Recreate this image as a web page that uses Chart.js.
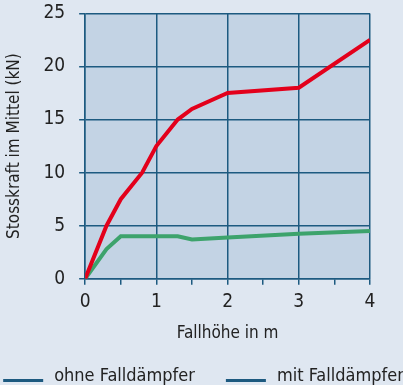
<!DOCTYPE html>
<html>
<head>
<meta charset="utf-8">
<script src="https://cdn.jsdelivr.net/npm/chart.js@4.4.1/dist/chart.umd.min.js"></script>
<style>
  html, body { margin: 0; padding: 0; background: #dfe7f1; overflow: hidden; }
  /* canvas moved up a bit: Chart.js keeps a larger top gap than the original has */
  #wrap { width: 403px; height: 397px; margin-top: -12px; position: relative; }
</style>
</head>
<body>
<div id="wrap"><canvas id="c"></canvas></div>
<script>
// Fallhöhe (m) und Stosskraft (kN)
const ohneX = [0, 0.3, 0.5, 0.8, 1, 1.3, 1.5, 2, 3, 4];
const ohneY = [0, 5, 7.5, 10, 12.5, 15, 16, 17.5, 18, 22.5];
const mitX = [0, 0.3, 0.5, 1.3, 1.5, 2, 3, 4];
const mitY = [0, 2.8, 4, 4, 3.7, 3.9, 4.25, 4.5];
const seriesNames = ['ohne Falldämpfer', 'mit Falldämpfer'];

const GRID = '#1d5a80';
const TEXT = '#222';
const FONT = '"Liberation Sans Narrow", "DejaVu Sans Condensed", "Roboto Condensed", Roboto, sans-serif';

const pts = (xs, ys) => xs.map((x, i) => ({ x: x, y: ys[i] }));

/* plot area gets its own grey-blue fill */
const areaFill = {
  id: 'areaFill',
  beforeDraw(chart) {
    const a = chart.chartArea, ctx = chart.ctx;
    ctx.save();
    ctx.fillStyle = '#c3d3e4';
    ctx.fillRect(a.left, a.top, a.right - a.left, a.bottom - a.top);
    ctx.restore();
  }
};

/* legend row at the very bottom: both keys are drawn in the dark blue,
   items spread wider than the built-in legend allows */
const bottomLegend = {
  id: 'bottomLegend',
  afterDraw(chart) {
    const ctx = chart.ctx;
    const boxW = 40, gapText = 11, gapItem = 31;
    const textY = chart.height - 9;
    ctx.save();
    ctx.font = '18px ' + FONT;
    ctx.textBaseline = 'middle';
    const items = chart.data.datasets.map(d => ({ text: d.label, w: ctx.measureText(d.label).width }));
    const total = items.reduce((s, it) => s + boxW + gapText + it.w, 0) + gapItem * (items.length - 1);
    let x = (chart.width - total) / 2 + 2;
    items.forEach(it => {
      ctx.fillStyle = GRID;
      ctx.fillRect(x, textY + 3, boxW, 3);
      ctx.fillStyle = TEXT;
      ctx.fillText(it.text, x + boxW + gapText, textY);
      x += boxW + gapText + it.w + gapItem;
    });
    ctx.restore();
  }
};

new Chart(document.getElementById('c'), {
  type: 'line',
  data: {
    datasets: [
      { label: seriesNames[0], data: pts(ohneX, ohneY), borderColor: '#e3001b', borderWidth: 4, pointRadius: 0, tension: 0 },
      { label: seriesNames[1], data: pts(mitX, mitY), borderColor: '#3da36c', borderWidth: 4, pointRadius: 0, tension: 0 }
    ]
  },
  options: {
    responsive: true,
    maintainAspectRatio: false,
    animation: false,
    layout: { padding: { left: 0, right: 0, top: 0, bottom: 41 } },
    plugins: {
      tooltip: { enabled: false },
      legend: { display: false }
    },
    scales: {
      x: {
        type: 'linear', min: 0, max: 4,
        ticks: {
          stepSize: 0.5, autoSkip: false, maxRotation: 0, padding: 6,
          color: TEXT, font: { family: FONT, size: 19 },
          callback: v => Number.isInteger(v) ? v : ''
        },
        grid: {
          color: c => Number.isInteger(c.tick.value) ? GRID : 'rgba(0,0,0,0)',
          tickColor: GRID, tickLength: 6, lineWidth: 1.5
        },
        border: { color: GRID, width: 1.5 },
        title: { display: true, text: 'Fallhöhe in m', color: TEXT, font: { family: FONT, size: 17 }, padding: { top: 4, bottom: 0 } }
      },
      y: {
        min: 0, max: 25,
        ticks: { stepSize: 5, padding: 14, color: TEXT, font: { family: FONT, size: 19 } },
        grid: { color: GRID, tickColor: GRID, tickLength: 6, lineWidth: 1.5 },
        border: { color: GRID, width: 1.5 },
        title: { display: true, text: 'Stosskraft im Mittel (kN)', color: TEXT, font: { family: FONT, size: 17 }, padding: { top: 4, bottom: 5 } }
      },
      // empty axis on the right just to keep the right margin
      yRight: {
        position: 'right', display: true,
        ticks: { display: false }, grid: { display: false }, border: { display: false },
        afterFit: s => { s.width = 33; }
      }
    }
  },
  plugins: [areaFill, bottomLegend]
});
</script>
</body>
</html>
